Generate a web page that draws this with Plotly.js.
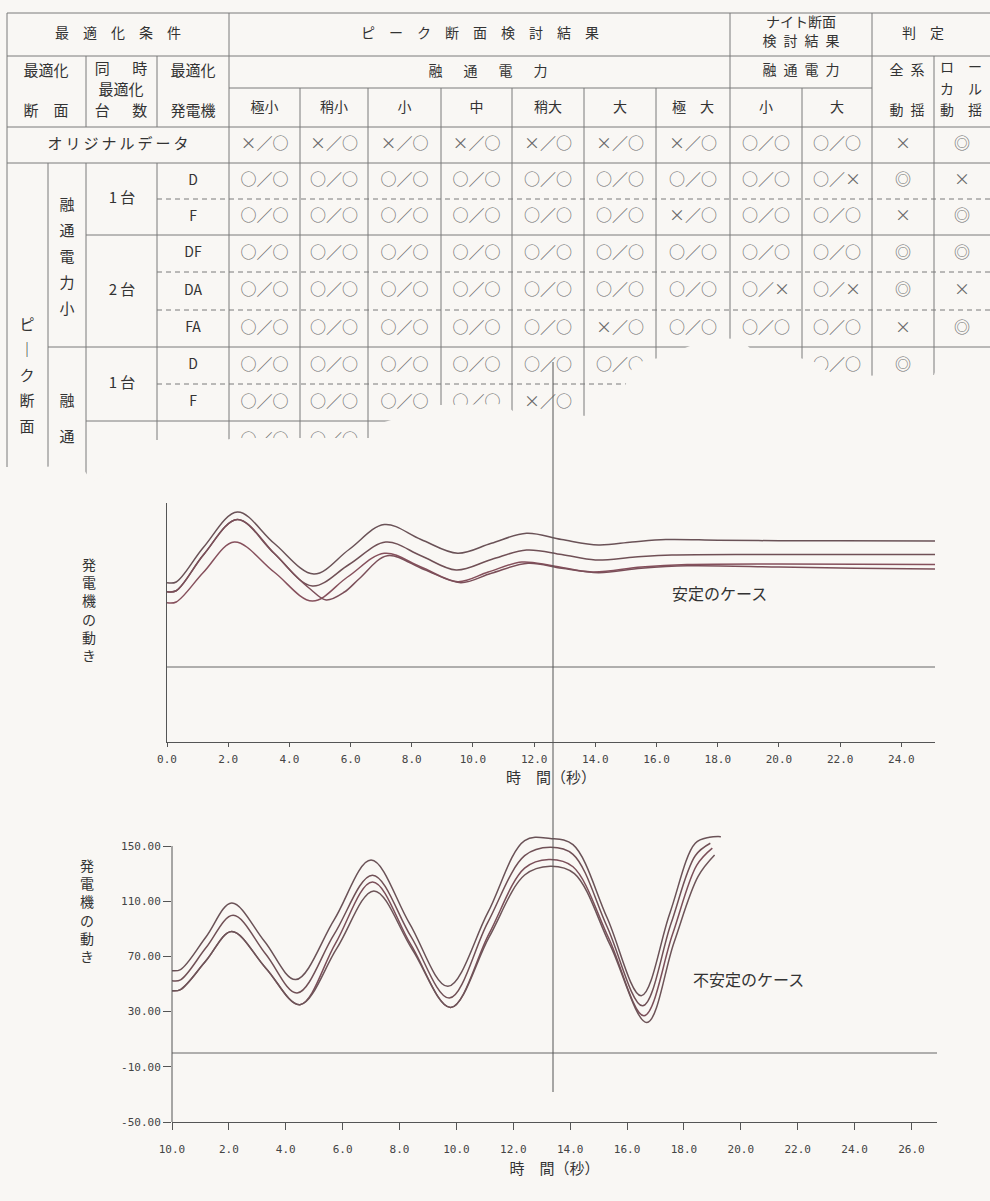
<!DOCTYPE html>
<html>
<head>
<meta charset="utf-8">
<script src="https://cdn.plot.ly/plotly-3.0.1.min.js"></script>
<style>html,body{margin:0;padding:0;background:#f9f7f4;}</style>
</head>
<body>
<div id="chart" style="width:990px;height:1201px"></div>
<script>
// ================= DATA =================
// 安定のケース (upper chart) – four generator swing curves, time in s
const stableT_A = [0,0.3,1.2,2.3,3.5,4.8,5.95,7.1,8.3,9.5,10.6,11.75,12.9,14.1,15.2,16.3,18,20,22,25.1];
const stableY_A = [67.5,68,96,124,99,74.4,94,114,102,91,99,107,102,97.6,100,102,101.5,101,101,100.8];
const stableT_B = [0,0.3,1.2,2.3,3.5,4.75,5.95,7.15,8.3,9.45,10.6,11.75,12.9,14.0,15.3,16.5,20,25.1];
const stableY_B = [60.3,61,90,118,91,64.8,82,100,89,77.6,86,93.6,90,85.6,88,89.6,90,90];
const stableT_C = [0,0.3,1.2,2.2,3.5,4.75,5.9,7.1,8.3,9.5,10.5,11.6,12.6,13.9,15.5,17,20,25.1];
const stableY_C = [51.4,52,76,100,76,52.8,72,91,80,68.3,76,84,81,76,80,82,82.5,82];
const stableT_D = [0,0.3,1.2,2.3,3.5,4.2,4.7,5.2,5.8,6.3,7.2,8.4,9.6,10.6,11.8,12.9,14.1,15.5,17,20,22.5,25.1];
const stableY_D = [60.3,61,90,118,91,73,62,53.6,60,71,89,78,67.5,75,83,79,75.5,79,81,80,79,78.4];

// 不安定のケース (lower chart)
const unstableT_1 = [0,0.3,1.2,2.1,3.25,4.35,5.7,7.0,8.35,9.7,11.1,12.4,13.3,14.1,15.3,16.5,17.5,18.4,18.9,19.3];
const unstableY_1 = [59.7,60.5,84.3,108.7,81,53.2,96.5,139.8,94,48.3,101.5,154,155.5,151,98,41.5,101,152,156.3,156.8];
const unstableT_2 = [0,0.3,1.2,2.15,3.3,4.4,5.7,7.05,8.4,9.75,11.1,12.4,13.3,14.1,15.3,16.55,17.55,18.4,18.93];
const unstableY_2 = [52.4,53,76.4,99.8,71.6,43.5,86,128.9,84.5,39.8,94.5,143,149.1,144,91.5,34.2,94,143,152];
const unstableT_3 = [0,0.3,1.2,2.1,3.3,4.5,5.75,7.05,8.4,9.8,11.15,12.4,13.25,14.1,15.35,16.6,17.6,18.45,19.0];
const unstableY_3 = [45.2,46,67,88.1,61.5,35,79.5,124,78.5,33,86.5,134,140.3,135,83.5,27,86,136,148.5];
const unstableT_4 = [0,0.3,1.2,2.1,3.3,4.5,5.8,7.1,8.45,9.8,11.15,12.4,13.3,14.15,15.4,16.7,17.65,18.5,19.08];
const unstableY_4 = [45.2,46,67,88.1,61.5,35,76,117.5,75,33,84,129,135.4,130,78.5,22.1,80,128,143.5];

// tick labels
const stableTickVals = [0,2,4,6,8,10,12,14,16,18,20,22,24];
const stableTickText = ['0.0','2.0','4.0','6.0','8.0','10.0','12.0','14.0','16.0','18.0','20.0','22.0','24.0'];
const unstableXTickVals = [0,2,4,6,8,10,12,14,16,18,20,22,24,26];
const unstableXTickText = ['10.0','2.0','4.0','6.0','8.0','10.0','12.0','14.0','16.0','18.0','20.0','22.0','24.0','26.0'];
const unstableYTickVals = [-50,-10,30,70,110,150];
const unstableYTickText = ['-50.00','-10.00','30.00','70.00','110.00','150.00'];

// table contents
const peakHeaders  = ['極小','稍小','小','中','稍大','大','極　大'];
const nightHeaders = ['小','大'];
const genLabels    = ['D','F','DF','DA','FA','D','F'];
const rowOriginal = ['×／○','×／○','×／○','×／○','×／○','×／○','×／○','○／○','○／○','×','◎'];
const rowS1D  = ['○／○','○／○','○／○','○／○','○／○','○／○','○／○','○／○','○／×','◎','×'];
const rowS1F  = ['○／○','○／○','○／○','○／○','○／○','○／○','×／○','○／○','○／○','×','◎'];
const rowS2DF = ['○／○','○／○','○／○','○／○','○／○','○／○','○／○','○／○','○／○','◎','◎'];
const rowS2DA = ['○／○','○／○','○／○','○／○','○／○','○／○','○／○','○／×','○／×','◎','×'];
const rowS2FA = ['○／○','○／○','○／○','○／○','○／○','×／○','○／○','○／○','○／○','×','◎'];
const rowL1D  = ['○／○','○／○','○／○','○／○','○／○','○／○','','','○／○','◎',''];
const rowL1F  = ['○／○','○／○','○／○','○／○','×／○','','','','','',''];
const rowL2   = ['○／○','○／○','','','','','','','','',''];

// ================= LAYOUT GEOMETRY (page pixels) =================
const W = 990, H = 1201;
const BG = '#f9f7f4', INK = '#333333', SYM = '#6a6a6a', RULE = '#7a7a7a';
const JP = '"Noto Sans CJK JP", "Noto Sans", sans-serif';
const MONO = '"DejaVu Sans Mono", monospace';
const colEdges = [229,300,368,441,512,584,656,730,802,872,934,990];
const rowEdges = [127,163,199,235,272,310,347,384,421,460];
const box1 = {l:167, r:935, t:503, b:742};
const box2 = {l:172, r:937, t:835, b:1122};
const cover = [[0,496],[0,467],[44,467],[80,464],[92,482],[110,470],[152,440],[225,440],[235,438],[372,438],[378,424],[440,405],[505,404],[515,413],[590,416],[600,395],[625,386],[633,366],[645,360],[660,358],[690,346],[712,338],[740,339],[752,350],[800,358],[818,363],[832,376],[934,375],[940,358],[990,358],[990,496]];

const px = x => x / W, py = y => 1 - y / H;
const centers = e => e.slice(0,-1).map((v,i)=>(v+e[i+1])/2);
const colC = centers(colEdges), rowC = centers(rowEdges);

// ---- table text ----
const tx=[], ty=[], tt=[], ts=[], tc=[];
function put(x,y,t,s,c){ tx.push(x); ty.push(y); tt.push(t); ts.push(s); tc.push(c||INK); }
function putV(x,y0,dy,str,s){ [...str].forEach((ch,i)=>put(x,y0+i*dy,ch,s)); }

put(118,34,'最　適　化　条　件',14);
put(480,34,'ピ　ー　ク　断　面　検　討　結　果',14);
put(801,33,'ナイト断面<br>検\u2002討\u2002結\u2002果',14);
put(923,34,'判　定',14);
put(488,72,'融\u3000\u2002通\u3000\u2002電\u3000\u2002力',14);
put(801,71,'融\u2002通\u2002電\u2002力',14);
put(907,71,'全\u2002系',14); put(907,111,'動\u2002揺',14);
put(961,68,'ロ　ー',14); put(961,90,'カ　ル',14); put(961,111,'動　揺',14);
put(46,72,'最適化',15); put(46,112,'断　面',15);
put(121,70,'同\u3000\u2002時',15); put(121,91,'最適化',15); put(121,112,'台\u3000\u2002数',15);
put(193,72,'最適化',15); put(193,112,'発電機',15);
[...peakHeaders, ...nightHeaders].forEach((h,i)=>put(colC[i],108,h,14));
put(118,145,'オ\u2009リ\u2009ジ\u2009ナ\u2009ル\u2009デ\u2009ー\u2009タ',15);
putV(27,326,25.5,'ピ｜ク断面',15);
putV(67,206,26,'融通電力小',15);
putV(67,402,36,'融通',15);
put(122,199,'1 台',15); put(122,291,'2 台',15); put(122,384,'1 台',15);
genLabels.forEach((g,i)=>put(193,rowC[i+1],g,14));
[rowOriginal,rowS1D,rowS1F,rowS2DF,rowS2DA,rowS2FA,rowL1D,rowL1F,rowL2].forEach((row,r)=>{
  row.forEach((v,c)=>{ if(v) put(colC[c],rowC[r],v,16,SYM); });
});

// ---- table rules ----
const shapes = [];
function hl(y,x0,x1,dash){ shapes.push({type:'line',xref:'x',yref:'y',x0:x0,x1:x1,y0:y,y1:y,layer:'below',line:{color:RULE,width:1,dash:dash?'5px,4px':'solid'}}); }
function vl(x,y0,y1){ shapes.push({type:'line',xref:'x',yref:'y',x0:x,x1:x,y0:y0,y1:y1,layer:'below',line:{color:RULE,width:1}}); }
hl(13,7,990); hl(56,7,990); hl(88,229,872); hl(127,7,990); hl(163,7,990);
hl(199,157,990,true); hl(235,86,990); hl(272,157,990,true); hl(310,157,990,true);
hl(347,48,990); hl(384,157,990,true); hl(421,86,990);
vl(7,13,480); vl(86,56,127); vl(86,163,482); vl(48,163,480);
vl(157,56,127); vl(157,163,480);
[229,730,872].forEach(x=>vl(x,13,480));
[300,368,441,512,584,656,802].forEach(x=>vl(x,88,480));
vl(934,56,480);

// chart reference lines
shapes.push({type:'line',xref:'x2 domain',yref:'y2',x0:0,x1:1,y0:0,y1:0,line:{color:'#666',width:1}});
shapes.push({type:'line',xref:'x3 domain',yref:'y3',x0:0,x1:1,y0:0,y1:0,line:{color:'#666',width:1}});
// lower chart's y axis line stops at the 150.00 tick
shapes.push({type:'line',xref:'x3 domain',yref:'y3',x0:0,x1:0,y0:-50,y1:150,line:{color:'#555',width:1}});
// vertical marker line crossing both sheets
shapes.push({type:'line',xref:'paper',yref:'paper',x0:px(553),x1:px(553),y0:py(362),y1:py(1092),layer:'above',line:{color:'#555',width:1}});

// ================= TRACES =================
const data = [];
data.push({type:'scatter',mode:'text',xaxis:'x',yaxis:'y',x:tx,y:ty,text:tt,
  textposition:'middle center',textfont:{family:JP,size:ts,color:tc},hoverinfo:'skip'});
// the chart sheet lying over the lower part of the table
data.push({type:'scatter',mode:'lines',xaxis:'x',yaxis:'y',x:cover.map(p=>p[0]),y:cover.map(p=>p[1]),
  fill:'toself',fillcolor:BG,line:{width:0,color:BG},hoverinfo:'skip'});

const curveStyle = c => ({color:c,width:1.5,shape:'spline',smoothing:1});
[[stableT_A,stableY_A,'#6a5257'],[stableT_B,stableY_B,'#705056'],[stableT_C,stableY_C,'#86505c'],[stableT_D,stableY_D,'#7b4f59']]
 .forEach(([x,y,c])=>data.push({type:'scatter',mode:'lines',xaxis:'x2',yaxis:'y2',x:x,y:y,line:curveStyle(c),hoverinfo:'skip'}));
[[unstableT_1,unstableY_1,'#6a5257'],[unstableT_2,unstableY_2,'#705056'],[unstableT_3,unstableY_3,'#7b4f59'],[unstableT_4,unstableY_4,'#6d5458']]
 .forEach(([x,y,c])=>data.push({type:'scatter',mode:'lines',xaxis:'x3',yaxis:'y3',x:x,y:y,line:curveStyle(c),hoverinfo:'skip'}));

const axBase = {showgrid:false,zeroline:false,showline:true,linecolor:'#555',linewidth:1,fixedrange:true,
  tickcolor:'#555',tickfont:{family:MONO,size:11,color:'#444'}};

const layout = {
  width:W,height:H,margin:{l:0,r:0,t:0,b:0},paper_bgcolor:BG,plot_bgcolor:'rgba(0,0,0,0)',showlegend:false,
  xaxis:{domain:[0,1],range:[0,W],visible:false,fixedrange:true},
  yaxis:{domain:[0,1],range:[H,0],visible:false,fixedrange:true},
  xaxis2:Object.assign({},axBase,{domain:[px(box1.l),px(box1.r)],anchor:'y2',range:[0,25.1],
    ticks:'outside',ticklen:4,tickvals:stableTickVals,ticktext:stableTickText,ticklabelstandoff:3,
    title:{text:'時　間（秒）',font:{family:JP,size:15,color:INK},standoff:6}}),
  yaxis2:Object.assign({},axBase,{domain:[py(box1.b),py(box1.t)],anchor:'x2',range:[-60,131.2],
    ticks:'',showticklabels:false}),
  xaxis3:Object.assign({},axBase,{domain:[px(box2.l),px(box2.r)],anchor:'y3',range:[0,26.9],
    ticks:'outside',ticklen:7,tickvals:unstableXTickVals,ticktext:unstableXTickText,ticklabelstandoff:10,
    title:{text:'時　間（秒）',font:{family:JP,size:15,color:INK},standoff:8}}),
  yaxis3:Object.assign({},axBase,{domain:[py(box2.b),py(box2.t)],anchor:'x3',range:[-50,158],showline:false,
    ticks:'outside',ticklen:8,tickvals:unstableYTickVals,ticktext:unstableYTickText}),
  shapes:shapes,
  annotations:[
    {xref:'paper',yref:'paper',x:px(80),y:py(609),text:'発<br>電<br>機<br>の<br>動<br>き',showarrow:false,font:{family:JP,size:14,color:INK}},
    {xref:'paper',yref:'paper',x:px(78),y:py(968),text:'発<br>電<br>機<br>の<br>動<br>き',showarrow:false,font:{family:JP,size:14,color:INK}},
    {xref:'x2',yref:'y2',x:18.07,y:59.2,text:'安定のケース',showarrow:false,font:{family:JP,size:16,color:INK}},
    {xref:'x3',yref:'y3',x:20.27,y:53.9,text:'不安定のケース',showarrow:false,font:{family:JP,size:16,color:INK}}
  ]
};

Plotly.newPlot('chart',data,layout,{displayModeBar:false,staticPlot:true});
</script>
</body>
</html>
